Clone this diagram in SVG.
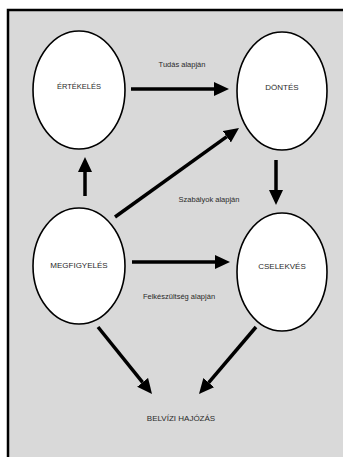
<svg xmlns="http://www.w3.org/2000/svg" width="343" height="457" viewBox="0 0 343 457">
  <style>
    .node ellipse { fill: #ffffff; stroke: #000000; stroke-width: 1.6; }
    .node text { font-family: "Liberation Sans", Arial, sans-serif; font-size: 8px; fill: #2a2a2a; text-anchor: middle; dominant-baseline: middle; }
    .label { font-family: "Liberation Sans", Arial, sans-serif; font-size: 7.5px; fill: #2a2a2a; text-anchor: middle; dominant-baseline: middle; }
    .edge { stroke: #000000; stroke-width: 3.5; fill: none; marker-end: url(#head); }
  </style>
  <defs>
    <marker id="head" markerUnits="userSpaceOnUse" markerWidth="16" markerHeight="16" refX="0" refY="7" orient="auto">
      <path d="M0,0 L15,7 L0,14 Z" fill="#000000"/>
    </marker>
  </defs>

  <!-- page -->
  <rect x="0" y="0" width="343" height="457" fill="#ffffff"/>
  <rect x="8" y="10" width="345" height="460" fill="#d9d9d9" stroke="#000000" stroke-width="2.5"/>

  <!-- connectors -->
  <g id="connectors">
    <line class="edge" x1="131" y1="89" x2="214" y2="89"/>
    <line class="edge" x1="115" y1="217" x2="226.8" y2="136.7"/>
    <line class="edge" x1="85" y1="196" x2="85" y2="172"/>
    <line class="edge" x1="276" y1="160" x2="276" y2="190"/>
    <line class="edge" x1="132" y1="262" x2="215" y2="262"/>
    <line class="edge" x1="98" y1="327" x2="142.6" y2="382.3"/>
    <line class="edge" x1="256" y1="327" x2="208.7" y2="382.6"/>
  </g>

  <!-- edge labels -->
  <text class="label" x="182" y="65">Tudás alapján</text>
  <text class="label" x="209" y="200">Szabályok alapján</text>
  <text class="label" x="179" y="297">Felkészültség alapján</text>

  <!-- nodes -->
  <g id="ertekeles" class="node">
    <ellipse cx="79" cy="90" rx="46" ry="59"/>
    <text x="79" y="87" style="font-size:7.5px">ÉRTÉKELÉS</text>
  </g>
  <g id="dontes" class="node">
    <ellipse cx="282" cy="91" rx="45" ry="59"/>
    <text x="282" y="88">DÖNTÉS</text>
  </g>
  <g id="megfigyeles" class="node">
    <ellipse cx="79" cy="266" rx="46" ry="58"/>
    <text x="79" y="266">MEGFIGYELÉS</text>
  </g>
  <g id="cselekves" class="node">
    <ellipse cx="282" cy="272" rx="45" ry="59"/>
    <text x="282" y="267">CSELEKVÉS</text>
  </g>
  <g id="belvizi" class="node">
    <text x="181" y="419">BELVÍZI HAJÓZÁS</text>
  </g>
</svg>
